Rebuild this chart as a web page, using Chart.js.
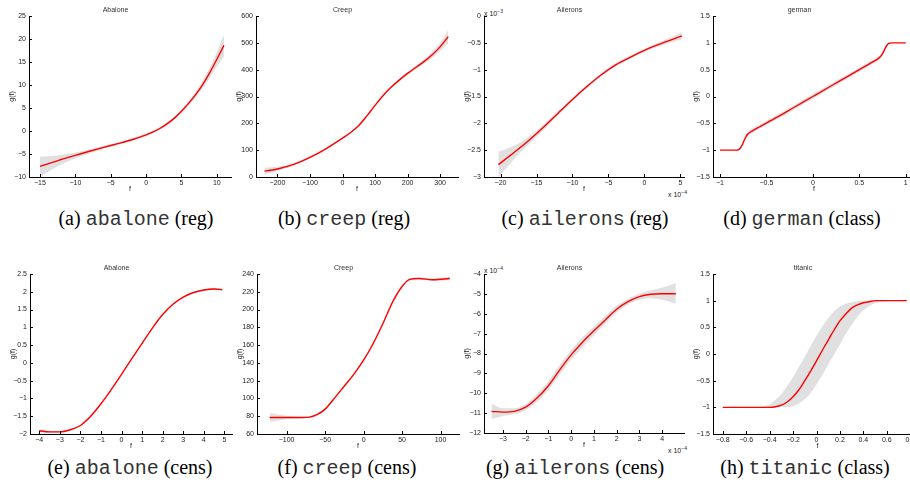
<!DOCTYPE html>
<html lang="en">
<head>
<meta charset="UTF-8">
<title>Link functions g(f)</title>
<script src="https://cdn.jsdelivr.net/npm/chart.js"></script>
<style>
    body {
        margin: 0;
        padding: 0;
        background: #fff;
        overflow: hidden;
    }
    #page {
        position: relative;
        width: 910px;
        height: 485px;
        overflow: hidden;
    }
    canvas {
        position: absolute;
    }
    .cap {
        position: absolute;
        width: 240px;
        text-align: center;
        font-family: "Liberation Serif", "Times New Roman", serif;
        font-size: 20px;
        line-height: 24px;
        color: #000;
        white-space: nowrap;
    }
    .cap .tt {
        font-family: "Liberation Mono", "Courier New", monospace;
        color: #333;
    }
    .sci {
        position: absolute;
        font-family: "Liberation Sans", Arial, sans-serif;
        font-size: 7px;
        line-height: 8px;
        color: #222;
        white-space: nowrap;
    }
    .sci sup {
        font-size: 5px;
        vertical-align: 3px;
    }
</style>
</head>
<body>
<div id="page">
    <div class="cap" style="left:16px;top:206px">(a) <span class="tt">abalone</span> (reg)</div>
    <div class="cap" style="left:224px;top:206px">(b) <span class="tt">creep</span> (reg)</div>
    <div class="cap" style="left:465px;top:206px">(c) <span class="tt">ailerons</span> (reg)</div>
    <div class="cap" style="left:682px;top:206px">(d) <span class="tt">german</span> (class)</div>
    <div class="cap" style="left:10px;top:455px">(e) <span class="tt">abalone</span> (cens)</div>
    <div class="cap" style="left:227px;top:455px">(f) <span class="tt">creep</span> (cens)</div>
    <div class="cap" style="left:455px;top:455px">(g) <span class="tt">ailerons</span> (cens)</div>
    <div class="cap" style="left:685px;top:455px">(h) <span class="tt">titanic</span> (class)</div>

    <div class="sci" style="left:484px;top:7px">x 10<sup>−3</sup></div>
    <div class="sci" style="left:668px;top:188px">x 10<sup>−4</sup></div>
    <div class="sci" style="left:484px;top:264px">x 10<sup>−4</sup></div>
    <div class="sci" style="left:668px;top:444px">x 10<sup>−4</sup></div>
</div>

<script>
    // (a) abalone (reg)
    const aX    = [-15, -14, -13, -12, -11, -10, -8, -6, -4, -2, 0, 1, 2, 3, 4, 5, 6, 7, 8, 9, 10, 11];
    const aMean = [-7.7, -7.2, -6.7, -6.2, -5.75, -5.3, -4.4, -3.55, -2.75, -1.9, -0.85, -0.2, 0.6, 1.6, 2.8, 4.3, 6.0, 7.9, 10.1, 12.7, 15.6, 18.6];
    const aLo   = [-10.0, -9.0, -8.1, -7.3, -6.6, -5.95, -4.85, -3.9, -3.05, -2.2, -1.15, -0.5, 0.3, 1.3, 2.45, 3.9, 5.5, 7.3, 9.3, 11.6, 14.0, 16.2];
    const aHi   = [-5.6, -5.5, -5.4, -5.2, -4.95, -4.7, -3.95, -3.2, -2.45, -1.6, -0.55, 0.1, 0.9, 1.9, 3.15, 4.7, 6.5, 8.5, 10.9, 13.8, 17.2, 21.0];
    const aXTicks = [-15, -10, -5, 0, 5, 10];
    const aYTicks = [-10, -5, 0, 5, 10, 15, 20, 25];

    // (b) creep (reg)
    const bX    = [-240, -200, -150, -100, -50, 0, 25, 50, 75, 100, 125, 150, 175, 200, 225, 250, 275, 300, 325];
    const bMean = [22, 30, 47, 73, 106, 145, 166, 192, 228, 267, 304, 335, 362, 386, 408, 430, 455, 485, 523];
    const bLo   = [9, 22, 42, 69, 103, 142, 163, 189, 225, 264, 300, 331, 357, 380, 401, 421, 443, 470, 498];
    const bHi   = [35, 38, 52, 77, 109, 148, 169, 195, 231, 270, 308, 339, 367, 392, 415, 439, 467, 500, 548];
    const bXTicks = [-200, -100, 0, 100, 200, 300];
    const bYTicks = [0, 100, 200, 300, 400, 500, 600];

    // (c) ailerons (reg), x in 1e-4, g in 1e-3
    const cX    = [-20.3, -18, -16, -14, -12, -10, -8, -6, -4, -2, 0, 2, 4, 5.2];
    const cMean = [-2.77, -2.53, -2.31, -2.07, -1.81, -1.555, -1.315, -1.095, -0.91, -0.77, -0.64, -0.53, -0.43, -0.37];
    const cLo   = [-3.01, -2.65, -2.38, -2.12, -1.85, -1.585, -1.345, -1.125, -0.94, -0.80, -0.67, -0.57, -0.48, -0.44];
    const cHi   = [-2.53, -2.41, -2.24, -2.02, -1.77, -1.525, -1.285, -1.065, -0.88, -0.74, -0.61, -0.49, -0.38, -0.30];
    const cXTicks = [-20, -15, -10, -5, 0, 5];
    const cYTicks = [-3, -2.5, -2, -1.5, -1, -0.5, 0];

    // (d) german (class)
    const dX    = [-1, -0.9, -0.82, -0.8, -0.78, -0.76, -0.74, -0.72, -0.7, -0.68, -0.65, -0.6, -0.4, -0.2, 0, 0.2, 0.4, 0.6, 0.66, 0.7, 0.72, 0.74, 0.76, 0.78, 0.8, 0.82, 0.85, 0.9, 1];
    const dMean = [-1, -1, -1, -0.99, -0.96, -0.9, -0.82, -0.75, -0.7, -0.67, -0.64, -0.59, -0.4, -0.2, 0, 0.2, 0.4, 0.6, 0.66, 0.7, 0.73, 0.77, 0.83, 0.9, 0.96, 0.99, 1, 1, 1];
    const dLo   = [-1, -1, -1, -1, -0.98, -0.93, -0.86, -0.79, -0.74, -0.71, -0.68, -0.63, -0.44, -0.24, -0.04, 0.16, 0.36, 0.56, 0.62, 0.66, 0.69, 0.73, 0.79, 0.87, 0.94, 0.98, 1, 1, 1];
    const dHi   = [-1, -1, -1, -0.98, -0.94, -0.87, -0.78, -0.71, -0.66, -0.63, -0.6, -0.55, -0.36, -0.16, 0.04, 0.24, 0.44, 0.64, 0.7, 0.74, 0.77, 0.81, 0.87, 0.93, 0.98, 1, 1, 1, 1];
    const dXTicks = [-1, -0.5, 0, 0.5, 1];
    const dYTicks = [-1.5, -1, -0.5, 0, 0.5, 1, 1.5];

    // (e) abalone (cens)
    const eX    = [-4, -3.5, -3, -2.5, -2, -1.5, -1, -0.5, 0, 0.5, 1, 1.5, 2, 2.5, 3, 3.5, 4, 4.5, 4.9];
    const eMean = [-1.91, -1.94, -1.94, -1.88, -1.76, -1.5, -1.15, -0.75, -0.32, 0.12, 0.55, 0.98, 1.36, 1.65, 1.85, 1.98, 2.05, 2.08, 2.06];
    const eLo   = [-1.96, -1.97, -1.96, -1.9, -1.78, -1.52, -1.17, -0.77, -0.34, 0.1, 0.53, 0.96, 1.34, 1.63, 1.83, 1.96, 2.03, 2.05, 2.02];
    const eHi   = [-1.86, -1.91, -1.92, -1.86, -1.74, -1.48, -1.13, -0.73, -0.3, 0.14, 0.57, 1.0, 1.38, 1.67, 1.87, 2.0, 2.07, 2.11, 2.1];
    const eXTicks = [-4, -3, -2, -1, 0, 1, 2, 3, 4, 5];
    const eYTicks = [-2, -1.5, -1, -0.5, 0, 0.5, 1, 1.5, 2, 2.5];

    // (f) creep (cens)
    const fX    = [-122, -100, -80, -70, -60, -50, -40, -25, -12, 0, 12, 25, 38, 50, 60, 72, 90, 112];
    const fMean = [78.5, 78.5, 78.5, 79, 82, 88, 98, 114, 128, 143, 161, 184, 209, 226, 234, 235, 233.5, 235];
    const fLo   = [73.5, 76.5, 77.5, 78, 81, 87, 97, 113, 127, 142, 160, 183, 208, 225, 233, 234, 232, 233];
    const fHi   = [83.5, 80.5, 79.5, 80, 83, 89, 99, 115, 129, 144, 162, 185, 210, 227, 235, 236, 235, 237];
    const fXTicks = [-100, -50, 0, 50, 100];
    const fYTicks = [60, 80, 100, 120, 140, 160, 180, 200, 220, 240];

    // (g) ailerons (cens), x and g in 1e-4
    const gX    = [-3.5, -3, -2.5, -2, -1.5, -1, -0.5, 0, 0.5, 1, 1.5, 2, 2.5, 3, 3.5, 4, 4.6];
    const gMean = [-10.91, -10.95, -10.91, -10.7, -10.24, -9.62, -8.82, -8.07, -7.43, -6.86, -6.31, -5.77, -5.39, -5.14, -5.02, -4.99, -4.99];
    const gLo   = [-11.31, -11.15, -11.06, -10.85, -10.44, -9.84, -9.07, -8.32, -7.68, -7.08, -6.51, -5.95, -5.54, -5.29, -5.22, -5.29, -5.49];
    const gHi   = [-10.51, -10.75, -10.76, -10.55, -10.04, -9.4, -8.57, -7.82, -7.18, -6.64, -6.11, -5.59, -5.24, -4.99, -4.82, -4.69, -4.45];
    const gXTicks = [-3, -2, -1, 0, 1, 2, 3, 4];
    const gYTicks = [-12, -11, -10, -9, -8, -7, -6, -5, -4];

    // (h) titanic (class)
    const hX    = [-0.8, -0.6, -0.5, -0.4, -0.35, -0.3, -0.25, -0.2, -0.15, -0.1, -0.05, 0, 0.05, 0.1, 0.15, 0.2, 0.25, 0.3, 0.35, 0.4, 0.45, 0.5, 0.6, 0.77];
    const hMean = [-1, -1, -1, -1, -0.99, -0.96, -0.9, -0.8, -0.67, -0.5, -0.32, -0.13, 0.07, 0.26, 0.45, 0.62, 0.75, 0.86, 0.92, 0.96, 0.98, 1.0, 1.0, 1.0];
    const hLo   = [-1, -1, -1, -1, -1, -1, -1, -0.98, -0.93, -0.85, -0.73, -0.57, -0.39, -0.2, -0.01, 0.18, 0.38, 0.55, 0.7, 0.82, 0.9, 0.95, 0.99, 1.0];
    const hHi   = [-1, -1, -1, -0.94, -0.86, -0.75, -0.6, -0.43, -0.24, -0.05, 0.15, 0.34, 0.52, 0.67, 0.8, 0.89, 0.94, 0.97, 0.99, 1.0, 1.0, 1.0, 1.0, 1.0];
    const hXTicks = [-0.8, -0.6, -0.4, -0.2, 0, 0.2, 0.4, 0.6, 0.8];
    const hYTicks = [-1.5, -1, -0.5, 0, 0.5, 1, 1.5];

    // axis boxes in page pixels (L,R = y-axis / x-axis end, T,B = top / x-axis)
    const panels = [
        { title: 'Abalone',  L: 29,    R: 231,   T: 16,  B: 177, xMin: -16.55, xMax: 12,    yMin: -10, yMax: 25,  x: aX, mean: aMean, lo: aLo, hi: aHi, xTicks: aXTicks, yTicks: aYTicks },
        { title: 'Creep',    L: 255.5, R: 457.5, T: 16,  B: 177, xMin: -266,   xMax: 355,   yMin: 0,   yMax: 600, x: bX, mean: bMean, lo: bLo, hi: bHi, xTicks: bXTicks, yTicks: bYTicks },
        { title: 'Ailerons', L: 483.5, R: 683,   T: 16,  B: 177, xMin: -22.3,  xMax: 5.5,   yMin: -3,  yMax: 0,   x: cX, mean: cMean, lo: cLo, hi: cHi, xTicks: cXTicks, yTicks: cYTicks },
        { title: 'german',   L: 713,   R: 915,   T: 16,  B: 177, xMin: -1.075, xMax: 1.1,   yMin: -1.5, yMax: 1.5, x: dX, mean: dMean, lo: dLo, hi: dHi, xTicks: dXTicks, yTicks: dYTicks },
        { title: 'Abalone',  L: 30,    R: 231.5, T: 274, B: 434, xMin: -4.45,  xMax: 5.37,  yMin: -2,  yMax: 2.5, x: eX, mean: eMean, lo: eLo, hi: eHi, xTicks: eXTicks, yTicks: eYTicks },
        { title: 'Creep',    L: 256.5, R: 458.5, T: 274, B: 434, xMin: -138.5, xMax: 124,   yMin: 60,  yMax: 240, x: fX, mean: fMean, lo: fLo, hi: fHi, xTicks: fXTicks, yTicks: fYTicks },
        { title: 'Ailerons', L: 483.5, R: 683,   T: 274, B: 433, xMin: -3.83,  xMax: 4.96,  yMin: -12, yMax: -4,  x: gX, mean: gMean, lo: gLo, hi: gHi, xTicks: gXTicks, yTicks: gYTicks },
        { title: 'titanic',  L: 713,   R: 922,   T: 274, B: 434, xMin: -0.883, xMax: 0.9,   yMin: -1.5, yMax: 1.5, x: hX, mean: hMean, lo: hLo, hi: hHi, xTicks: hXTicks, yTicks: hYTicks }
    ];

    const LEFT_SPACE = 29, TOP_SPACE = 16, BOTTOM_SPACE = 20, RIGHT_SPACE = 8;
    const smallFont = { family: '"Liberation Sans", Arial, sans-serif', size: 7, weight: 'normal' };

    const fmt = v => String(Math.round(v * 1000) / 1000).replace('-', '\u2212');
    const pts = (xs, ys) => xs.map((x, i) => ({ x: x, y: ys[i] }));

    // MATLAB style ticks pointing into the plot
    const inwardTicks = {
        id: 'inwardTicks',
        afterDraw(chart) {
            const { ctx, chartArea } = chart;
            const xs = chart.scales.x, ys = chart.scales.y;
            ctx.save();
            ctx.strokeStyle = '#000';
            ctx.lineWidth = 1;
            ctx.beginPath();
            xs.ticks.forEach(t => {
                const p = Math.round(xs.getPixelForValue(t.value)) + 0.5;
                ctx.moveTo(p, chartArea.bottom);
                ctx.lineTo(p, chartArea.bottom - 3);
            });
            ys.ticks.forEach(t => {
                const p = Math.round(ys.getPixelForValue(t.value)) + 0.5;
                ctx.moveTo(chartArea.left, p);
                ctx.lineTo(chartArea.left + 3, p);
            });
            ctx.stroke();
            ctx.restore();
        }
    };

    const page = document.getElementById('page');

    panels.forEach(p => {
        const canvas = document.createElement('canvas');
        const w = Math.round(p.R - p.L) + LEFT_SPACE + RIGHT_SPACE;
        const h = Math.round(p.B - p.T) + TOP_SPACE + BOTTOM_SPACE;
        canvas.width = w;
        canvas.height = h;
        canvas.style.left = (p.L - LEFT_SPACE) + 'px';
        canvas.style.top = (p.T - TOP_SPACE) + 'px';
        page.appendChild(canvas);

        new Chart(canvas.getContext('2d'), {
            type: 'line',
            data: {
                datasets: [
                    {
                        data: pts(p.x, p.lo),
                        order: 2,
                        borderWidth: 0,
                        pointRadius: 0,
                        fill: false,
                        cubicInterpolationMode: 'monotone'
                    },
                    {
                        data: pts(p.x, p.hi),
                        order: 2,
                        borderWidth: 0,
                        pointRadius: 0,
                        backgroundColor: '#e0e0e0',
                        fill: '-1',
                        cubicInterpolationMode: 'monotone'
                    },
                    {
                        data: pts(p.x, p.mean),
                        order: 0,
                        borderColor: '#ff0000',
                        borderWidth: 1.4,
                        pointRadius: 0,
                        fill: false,
                        cubicInterpolationMode: 'monotone'
                    }
                ]
            },
            options: {
                responsive: false,
                animation: false,
                events: [],
                layout: { padding: { left: 0, right: RIGHT_SPACE, top: 0, bottom: 0 } },
                scales: {
                    x: {
                        type: 'linear',
                        min: p.xMin,
                        max: p.xMax,
                        afterBuildTicks: s => { s.ticks = p.xTicks.map(v => ({ value: v })); },
                        afterFit: s => { s.height = BOTTOM_SPACE; },
                        grid: { display: false, drawTicks: false },
                        border: { display: true, color: '#000', width: 1 },
                        ticks: { font: smallFont, color: '#222', padding: 1.5, autoSkip: false, maxRotation: 0, callback: fmt },
                        title: { display: true, text: 'f', font: smallFont, color: '#222', padding: { top: 0, bottom: 3.8 } }
                    },
                    y: {
                        type: 'linear',
                        min: p.yMin,
                        max: p.yMax,
                        afterBuildTicks: s => { s.ticks = p.yTicks.map(v => ({ value: v })); },
                        afterFit: s => { s.width = LEFT_SPACE; },
                        grid: { display: false, drawTicks: false },
                        border: { display: true, color: '#000', width: 1 },
                        ticks: { font: smallFont, color: '#222', padding: 3, autoSkip: false, callback: fmt },
                        title: { display: true, text: 'g(f)', font: smallFont, color: '#222', padding: { top: 7.8, bottom: 0 } }
                    }
                },
                plugins: {
                    legend: { display: false },
                    tooltip: { enabled: false },
                    title: {
                        display: true,
                        text: p.title,
                        font: smallFont,
                        color: '#333',
                        padding: { top: 6, bottom: 1.6 }
                    }
                }
            },
            plugins: [inwardTicks]
        });
    });
</script>
</body>
</html>
